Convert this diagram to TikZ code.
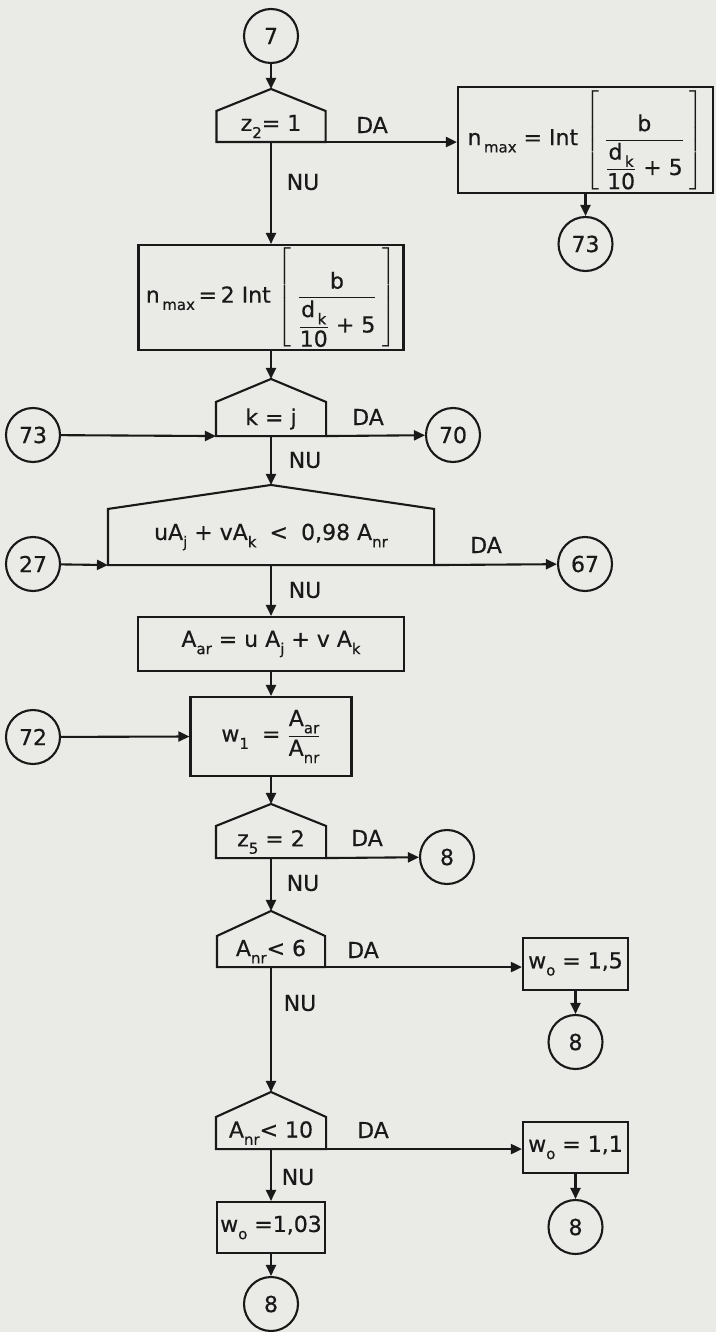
\documentclass[tikz,border=0pt]{standalone}
\usepackage{fontspec}
\usepackage{amsmath}
\setmainfont{DejaVu Sans}[FakeBold=0.5]
\usetikzlibrary{arrows.meta}
\definecolor{paper}{RGB}{234,234,230}
\definecolor{ink}{RGB}{25,25,25}
\newcommand{\sbx}[1]{\raisebox{-0.33em}{\fontsize{15}{15}\selectfont #1}}
\newcommand{\roof}[2]{%
  \draw[line join=miter] (#1.south west) -- (#1.north west) -- ([yshift=#2pt]#1.north) -- (#1.north east) -- (#1.south east) -- cycle;
  \coordinate (#1-top) at ([yshift=#2pt]#1.north);}
\newcommand{\nfrac}{\left[\;\dfrac{\text{b}}{\dfrac{\text{d\sbx{\,k}}}{\text{10}}\text{ + 5}}\;\right]}
\begin{document}
\begin{tikzpicture}[x=1pt,y=-1pt,
  font=\fontsize{22}{26}\selectfont,
  line width=2.1pt, draw=ink, text=ink,
  box/.style={draw, inner sep=0pt},
  dec/.style={inner sep=0pt},
  conn/.style={circle, draw, minimum size=54pt, inner sep=0pt},
  lbl/.style={inner sep=0pt},
  arr/.style={-{Triangle[length=11pt,width=10pt]}}]
\fill[paper] (0,0) rectangle (716,1332);
\useasboundingbox (0,0) rectangle (716,1332);

% top
\node[conn] (c7) at (271,36) {7};
\node[dec, minimum width=107pt, minimum height=29pt] (d1) at (271,126.5) {z\sbx{2}= 1};
\roof{d1}{22}
\node[box, minimum width=255pt, minimum height=106pt] (rb) at (585.5,140)
  {n\sbx{\,max} = Int $\nfrac$};
\node[conn] (c73a) at (585.5,244) {73};
\node[box, minimum width=265pt, minimum height=105pt] (lb) at (271,297.5)
  {n\sbx{\,max}\,=\,2 Int $\nfrac$};

% k=j
\node[dec, minimum width=108pt, minimum height=32pt] (d2) at (271,419) {k = j};
\roof{d2}{23}
\node[conn] (c73b) at (33,435) {73};
\node[conn] (c70) at (453,435) {70};

% big decision
\node[dec, minimum width=324pt, minimum height=54pt] (d3) at (271,537)
  {uA\sbx{j} + vA\sbx{k} \;<\; 0,98 A\sbx{nr}};
\roof{d3}{24}
\node[conn] (c27) at (33,564) {27};
\node[conn] (c67) at (585,564) {67};

\node[box, minimum width=266pt, minimum height=54pt] (aar) at (271,644)
  {A\sbx{ar} = u A\sbx{j} + v A\sbx{k}};
\node[box, minimum width=161pt, minimum height=79pt] (w1) at (271,736.5)
  {w\sbx{1} \;= $\dfrac{\text{A\sbx{ar}}}{\text{A\sbx{nr}}}$};
\node[conn] (c72) at (33,737) {72};

\node[dec, minimum width=108pt, minimum height=30pt] (d4) at (271,842) {z\sbx{5} = 2};
\roof{d4}{22}
\node[conn] (c8a) at (447,857) {8};

\node[dec, minimum width=106pt, minimum height=29pt] (d5) at (271,951.5) {A\sbx{nr}< 6};
\roof{d5}{25}
\node[box, minimum width=105pt, minimum height=52pt] (w15) at (575.5,964) {w\sbx{o} = 1,5};
\node[conn] (c8b) at (575.5,1042) {8};

\node[dec, minimum width=108pt, minimum height=30pt] (d6) at (271,1133) {A\sbx{nr}< 10};
\roof{d6}{25}
\node[box, minimum width=105pt, minimum height=51pt] (w11) at (575.5,1147.5) {w\sbx{o} = 1,1};
\node[conn] (c8c) at (575.5,1227) {8};
\node[box, minimum width=108pt, minimum height=51pt] (w103) at (271,1227.5) {w\sbx{o} =1,03};
\node[conn] (c8d) at (271,1304) {8};

% connectors
\draw[arr] (c7) -- (d1-top);
\draw[arr] (d1.south east) -- (d1.south east -| rb.west);
\draw[arr] (d1.south) -- (lb.north);
\draw[arr] (rb.south) -- (c73a);
\draw[arr] (lb.south) -- (d2-top);
\draw[arr] (c73b) -- (d2.south west);
\draw[arr] (d2.south east) -- (c70);
\draw[arr] (d2.south) -- (d3-top);
\draw[arr] (c27) -- (d3.south west);
\draw[arr] (d3.south east) -- (c67);
\draw[arr] (d3.south) -- (aar.north);
\draw[arr] (aar.south) -- (w1.north);
\draw[arr] (c72) -- (w1.west);
\draw[arr] (w1.south) -- (d4-top);
\draw[arr] (d4.south east) -- (c8a);
\draw[arr] (d4.south) -- (d5-top);
\draw[arr] (d5.south east) -- (d5.south east -| w15.west);
\draw[arr] (w15.south) -- (c8b);
\draw[arr] (d5.south) -- (d6-top);
\draw[arr] (d6.south east) -- (d6.south east -| w11.west);
\draw[arr] (w11.south) -- (c8c);
\draw[arr] (d6.south) -- (w103.north);
\draw[arr] (w103.south) -- (c8d);

% labels
\node[lbl] (da1) at (372,125) {DA};
\node[lbl] (nu1) at (303,182) {NU};
\node[lbl] (da2) at (368,417) {DA};
\node[lbl] (nu2) at (305,460) {NU};
\node[lbl] (da3) at (486,545) {DA};
\node[lbl] (nu3) at (305,590) {NU};
\node[lbl] (da4) at (367,838) {DA};
\node[lbl] (nu4) at (303,883) {NU};
\node[lbl] (da5) at (363,950) {DA};
\node[lbl] (nu5) at (300,1003) {NU};
\node[lbl] (da6) at (373,1130) {DA};
\node[lbl] (nu6) at (298,1177) {NU};
\end{tikzpicture}
\end{document}
